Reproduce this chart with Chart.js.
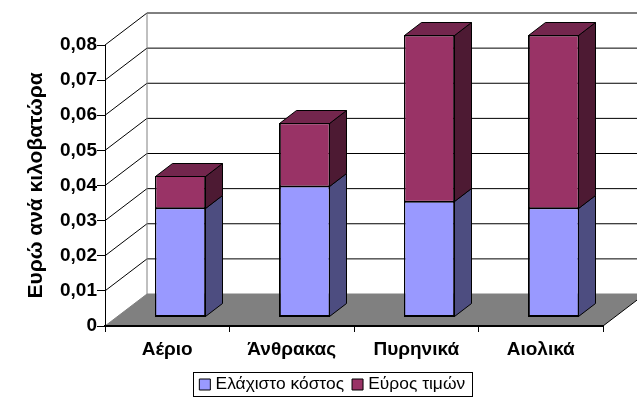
<!DOCTYPE html>
<html>
<head>
  <meta charset="utf-8">
  <script src="https://cdn.jsdelivr.net/npm/chart.js"></script>
  <style>
    body { margin: 0; background: #fff; }
    canvas { display: block; }
  </style>
</head>
<body>
  <canvas id="costChart" width="637" height="401"></canvas>
<script>
"use strict";
const categories = ['Αέριο', 'Άνθρακας', 'Πυρηνικά', 'Αιολικά'];
const minCost = [0.0308, 0.037, 0.0327, 0.0308];
const priceRange = [0.0092, 0.018, 0.0473, 0.0492];
const yTickLabels = ['0', '0,01', '0,02', '0,03', '0,04', '0,05', '0,06', '0,07', '0,08'];

// Depth of the box behind the axes, and of the bars themselves
const wallDepth = { x: 42, y: -32 };
const barShift = { x: 13, y: -9.5 };
const barDepth = { x: 17, y: -13 };

// Keeps 1px outlines on whole pixel rows and columns
const snap = v => Math.floor(v) + 0.5;

const polygon = function(ctx, pts, fill, stroke) {
  ctx.beginPath();
  pts.forEach((p, i) => i ? ctx.lineTo(p[0], p[1]) : ctx.moveTo(p[0], p[1]));
  ctx.closePath();
  if (fill) {
    ctx.fillStyle = fill;
    ctx.fill();
  }
  if (stroke) {
    ctx.strokeStyle = stroke;
    ctx.lineWidth = 1;
    ctx.stroke();
  }
};

const line = function(ctx, x1, y1, x2, y2, color) {
  ctx.beginPath();
  ctx.moveTo(x1, y1);
  ctx.lineTo(x2, y2);
  ctx.strokeStyle = color;
  ctx.lineWidth = 1;
  ctx.stroke();
};

// Corners of a bar's front face once it is moved into the box
const frontOf = function(bar) {
  return {
    left: snap(bar.x - bar.width / 2 + barShift.x),
    right: snap(bar.x + bar.width / 2 + barShift.x),
    top: snap(bar.y + barShift.y),
    bottom: snap(bar.base + barShift.y)
  };
};

const boxPlugin = {
  id: 'box',
  // Back wall, side wall and floor, drawn under the axes
  beforeDraw(chart) {
    const ctx = chart.ctx;
    const area = chart.chartArea;
    const yScale = chart.scales.y;
    const dx = wallDepth.x;
    const dy = wallDepth.y;
    ctx.save();
    polygon(ctx, [
      [area.left, area.bottom],
      [area.left + dx, area.bottom + dy],
      [area.right + dx, area.bottom + dy],
      [area.right, area.bottom]
    ], '#808080');
    yScale.ticks.forEach(t => {
      const y = yScale.getPixelForValue(t.value);
      if (t.value > 0) {
        line(ctx, area.left + dx, y + dy, area.right + dx, y + dy, '#000');
        line(ctx, area.left, y, area.left + dx, y + dy, '#000');
      }
    });
    line(ctx, area.left + dx, area.top + dy, area.left + dx, area.bottom + dy, '#808080');
    line(ctx, area.left, area.bottom, area.left + dx, area.bottom + dy, '#808080');
    line(ctx, area.left + dx, area.bottom + dy, area.right + dx, area.bottom + dy, '#808080');
    line(ctx, area.right, area.bottom, area.right + dx, area.bottom + dy, '#000');
    ctx.restore();
  },
  // Sides and tops go in first, the library then fills the fronts
  beforeDatasetsDraw(chart) {
    const ctx = chart.ctx;
    const dx = barDepth.x;
    const dy = barDepth.y;
    ctx.save();
    chart.data.datasets.forEach((ds, d) => {
      chart.getDatasetMeta(d).data.forEach(bar => {
        const f = frontOf(bar);
        polygon(ctx, [
          [f.right, f.bottom],
          [f.right + dx, f.bottom + dy],
          [f.right + dx, f.top + dy],
          [f.right, f.top]
        ], ds.sideColor, '#000');
        if (d === chart.data.datasets.length - 1) {
          polygon(ctx, [
            [f.left, f.top],
            [f.left + dx, f.top + dy],
            [f.right + dx, f.top + dy],
            [f.right, f.top]
          ], ds.topColor, '#000');
        }
      });
    });
    ctx.translate(barShift.x, barShift.y);
  },
  // Crisp outline over each front, including the joint between the two segments
  afterDatasetsDraw(chart) {
    const ctx = chart.ctx;
    ctx.restore();
    chart.data.datasets.forEach((ds, d) => {
      chart.getDatasetMeta(d).data.forEach(bar => {
        const f = frontOf(bar);
        ctx.strokeStyle = '#000';
        ctx.lineWidth = 1;
        ctx.strokeRect(f.left, f.top, f.right - f.left, f.bottom - f.top);
      });
    });
  },
  // The legend is placed by hand under the plot, its frame is drawn around it
  afterLayout(chart) {
    const lg = chart.legend;
    lg.left = 144;
    lg.right = 524;
    lg.top = 364.3;
  },
  afterDraw(chart) {
    const ctx = chart.ctx;
    ctx.save();
    ctx.strokeStyle = '#000';
    ctx.lineWidth = 1;
    ctx.strokeRect(193.5, 372.5, 279, 24);
    ctx.restore();
  }
};

Chart.defaults.font.family = '"Liberation Sans", Arial, sans-serif';
Chart.defaults.color = '#000';

new Chart(document.getElementById('costChart'), {
  type: 'bar',
  plugins: [boxPlugin],
  data: {
    labels: categories,
    datasets: [{
      label: 'Ελάχιστο κόστος',
      data: minCost,
      backgroundColor: '#9999FF',
      sideColor: '#4D4D80',
      topColor: '#737399',
      borderColor: '#000',
      borderWidth: 1,
      borderSkipped: false,
      clip: false
    }, {
      label: 'Εύρος τιμών',
      data: priceRange,
      backgroundColor: '#993366',
      sideColor: '#4D1A33',
      topColor: '#73264D',
      borderColor: '#000',
      borderWidth: 1,
      borderSkipped: false,
      clip: false
    }]
  },
  options: {
    responsive: false,
    animation: false,
    barPercentage: 0.4,
    categoryPercentage: 1,
    layout: { padding: { left: 0, right: 34, top: 45, bottom: 0 } },
    plugins: {
      tooltip: { enabled: false },
      legend: {
        position: 'bottom',
        labels: {
          usePointStyle: true,
          pointStyle: 'rect',
          boxWidth: 4,
          boxHeight: 11,
          padding: 11.5,
          font: { size: 17.4 }
        }
      }
    },
    scales: {
      x: {
        stacked: true,
        afterFit(scale) { scale.height = 75 - scale.chart.legend.height; },
        border: { color: '#000', width: 2 },
        grid: { drawOnChartArea: false, tickLength: 6, color: '#000' },
        ticks: { maxRotation: 0, padding: 6, font: { size: 19, weight: 'bold' } }
      },
      y: {
        stacked: true,
        min: 0,
        max: 0.08,
        afterFit(scale) { scale.width = 105; },
        border: { color: '#000', width: 1 },
        grid: { drawOnChartArea: false, tickLength: 8, color: '#000' },
        title: {
          display: true,
          text: 'Ευρώ ανά κιλοβατώρα',
          padding: { top: 24, bottom: 0 },
          font: { size: 21, weight: 'bold' }
        },
        ticks: {
          stepSize: 0.01,
          padding: 0,
          font: { size: 19, weight: 'bold' },
          callback: (value, index) => yTickLabels[index]
        }
      }
    }
  }
});
</script>
</body>
</html>
